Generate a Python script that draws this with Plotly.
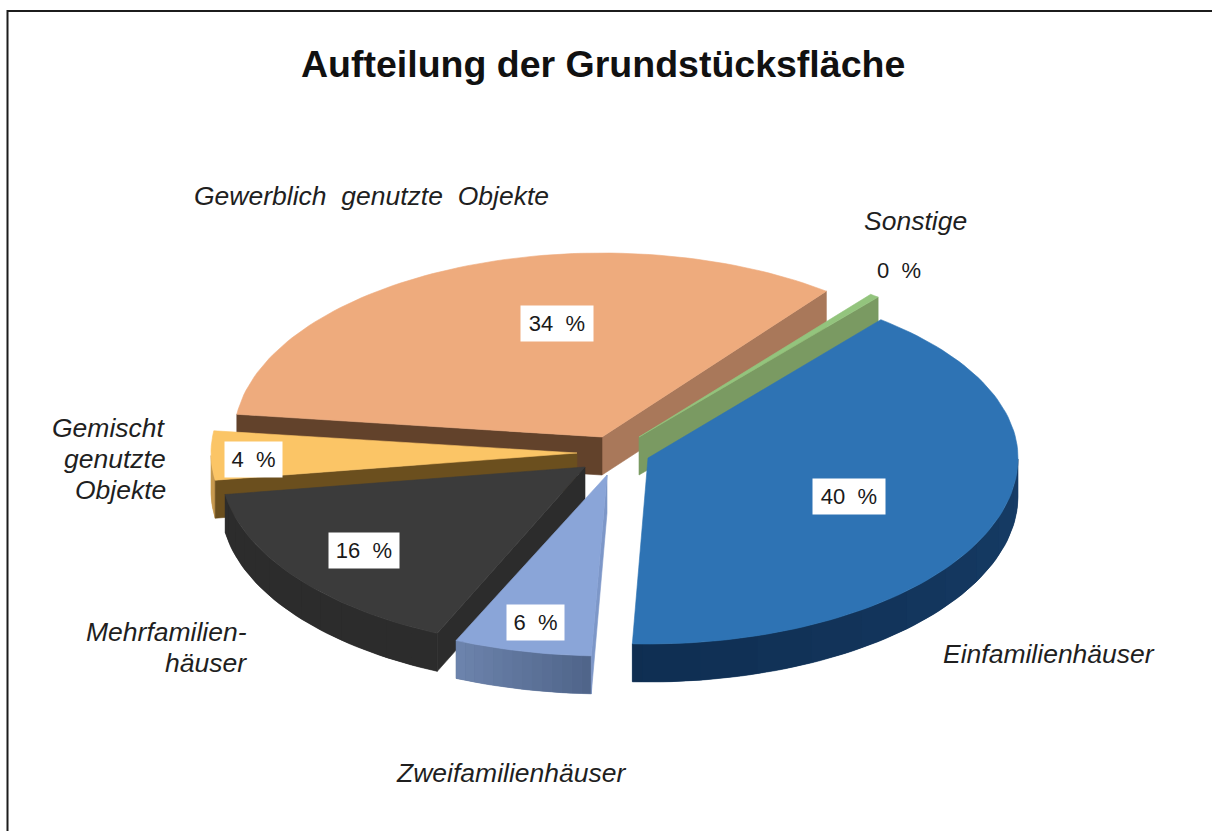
import math
import plotly.graph_objects as go

# --- data ---
categories = ["Sonstige", "Einfamilienhäuser", "Zweifamilienhäuser", "Mehrfamilienhäuser",
              "Gemischt genutzte Objekte", "Gewerblich genutzte Objekte"]
values = [0.4, 40, 6, 16, 4.4, 33.6]
shown_percent = ["0", "40", "6", "16", "4", "34"]
title_text = "Aufteilung der Grundstücksfläche"
name_labels = ["Sonstige", "Einfamilienhäuser", "Zweifamilienhäuser", "Mehrfamilien-<br>häuser",
               "Gemischt<br>genutzte<br>Objekte", "Gewerblich  genutzte  Objekte"]

# --- styling / projection of the tilted pie ---
W, H = 1212, 831
START_DEG = 39
DEPTH = 38
LINE_STEP = 31
top_colors = ["#93c47d", "#2e73b4", "#8aa5d8", "#3b3b3b", "#fbc566", "#eeab7d"]
wall_left = ["#7a9a62", "#0f2e52", "#6d84ad", "#2c2c2c", "#c79a50", "#62432c"]
wall_right = ["#7a9a62", "#163c66", "#4f6489", "#2c2c2c", "#c79a50", "#62432c"]
face_start = [None, None, "#7d97c8", "#2c2c2c", "#6b4f1e", "#62422b"]
face_end = ["#7a9a62", None, None, None, None, "#a9785a"]
apex_x = [639, 648, 607, 585, 577, 602]
apex_y = [437, 458, 475, 467, 453, 437]
rad_x = [380, 370, 372, 364, 366, 368]
rad_y_back = [180, 178, 181, 182, 180, 184]
rad_y_front = [180, 186, 181, 182, 180, 184]
draw_order = [5, 0, 4, 3, 2, 1]
value_pos = [(899, 270), (849, 496), (535, 622), (364, 550), (253, 459), (557, 323)]
value_box = [None, 62, 47, 60, 47, 62]
name_pos = [(915, 221), (1049, 654), (511, 773), (249, 632), (168, 428), (371, 196)]
name_align = ["center", "center", "center", "right", "right", "center"]


def point(i, deg):
    t = math.radians(deg)
    c = math.cos(t)
    ry = rad_y_back[i] if c > 0 else rad_y_front[i]
    return apex_x[i] + rad_x[i] * math.sin(t), apex_y[i] - ry * c


def blend(c1, c2, f):
    a = [int(c1[k:k + 2], 16) for k in (1, 3, 5)]
    b = [int(c2[k:k + 2], 16) for k in (1, 3, 5)]
    return "#" + "".join(f"{round(x + (y - x) * f):02x}" for x, y in zip(a, b))


def poly(pts, color, stroke=0.6):
    xs = [p[0] for p in pts] + [pts[0][0]]
    ys = [p[1] for p in pts] + [pts[0][1]]
    return go.Scatter(x=xs, y=ys, mode="lines", fill="toself", fillcolor=color,
                      line=dict(color=color, width=stroke), hoverinfo="skip", showlegend=False)


total = sum(values)
spans = []
a = START_DEG - 360 * values[0] / total
for v in values:
    b = a + 360 * v / total
    spans.append((a, b))
    a = b

fig = go.Figure()
for i in draw_order:
    a, b = spans[i]
    n = max(2, int((b - a) / 1.5))
    angs = [a + (b - a) * k / n for k in range(n + 1)]
    apex = (apex_x[i], apex_y[i])
    down = lambda p: (p[0], p[1] + DEPTH)
    # outer wall, front half only: one base shape, then soft colour bands on top
    front = [t for t in angs if 90 <= t % 360 <= 270]
    if len(front) >= 2:
        upper = [point(i, t) for t in front]
        base = blend(wall_left[i], wall_right[i], 0.5)
        fig.add_trace(poly(upper + [down(p) for p in reversed(upper)], base))
        bands = 10
        step = max(1, (len(front) - 1) // bands)
        for k in range(0, len(front) - 1, step):
            seg = front[k:k + step + 1]
            top = [point(i, t) for t in seg]
            f = 1 - (k + step / 2) / (len(front) - 1)
            fig.add_trace(poly(top + [down(p) for p in reversed(top)],
                               blend(wall_left[i], wall_right[i], f), stroke=0))
    # cut faces
    if face_end[i]:
        p = point(i, b)
        fig.add_trace(poly([apex, p, down(p), down(apex)], face_end[i]))
    if face_start[i]:
        p = point(i, a)
        fig.add_trace(poly([apex, p, down(p), down(apex)], face_start[i]))
    # top surface
    fig.add_trace(poly([apex] + [point(i, t) for t in angs], top_colors[i]))

annotations = []
for i, pct in enumerate(shown_percent):
    x, y = value_pos[i]
    item = dict(x=x, y=y, text=f"{pct}  %", showarrow=False, xref="x", yref="y",
                xanchor="center", yanchor="middle", align="center",
                font=dict(family="Liberation Sans", size=22, color="#1a1a1a"), borderpad=5)
    if value_box[i]:
        item.update(bgcolor="white", width=value_box[i])
    annotations.append(item)
    x, y = name_pos[i]
    for k, part in enumerate(name_labels[i].split("<br>")):
        yy = y + (k * LINE_STEP if "<br>" in name_labels[i] else 0)
        annotations.append(dict(x=x, y=yy, text=f"<i>{part}</i>", showarrow=False,
                                xref="x", yref="y", xanchor=name_align[i], yanchor="middle",
                                align=name_align[i],
                                font=dict(family="Liberation Sans", size=26.5, color="#1f1f1f")))
annotations.append(dict(x=603, y=64, text=f"<b>{title_text}</b>", showarrow=False, xref="x", yref="y",
                        xanchor="center", yanchor="middle",
                        font=dict(family="Liberation Sans", size=37.5, color="#111111")))

fig.update_layout(
    width=W, height=H, margin=dict(l=0, r=0, t=0, b=0),
    paper_bgcolor="white", plot_bgcolor="white", showlegend=False,
    xaxis=dict(range=[0, W], visible=False, fixedrange=True),
    yaxis=dict(range=[H, 0], visible=False, fixedrange=True),
    annotations=annotations,
    shapes=[dict(type="path", path=f"M 7.5 {H} L 7.5 11 L {W} 11", xref="x", yref="y",
                 line=dict(color="#1c1c1c", width=2))],
)
fig.write_html("out.html", config=dict(displayModeBar=False),
               post_script="document.body.style.margin='0';document.documentElement.style.overflow='hidden';")
